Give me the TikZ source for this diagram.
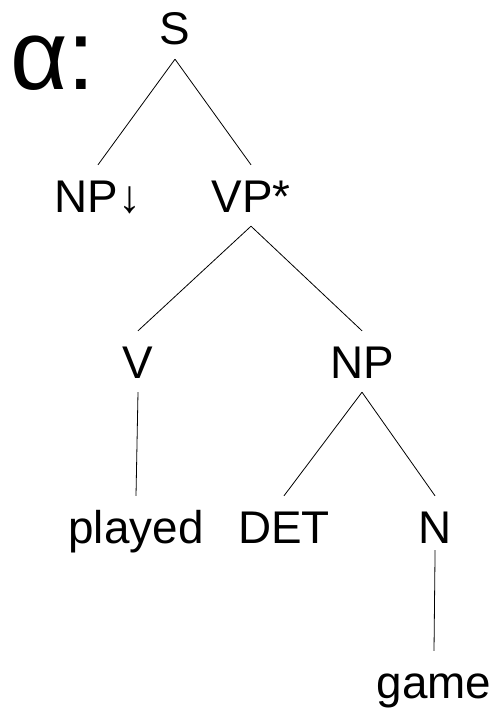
\documentclass[tikz,border=0pt]{standalone}
\usepackage{fontspec}
\setmainfont{Liberation Sans}

\begin{document}
\begin{tikzpicture}[
    x=1bp, y=-1bp,
    cat/.style={
        font=\fontsize{46}{55}\selectfont,
        text height=33bp, text depth=0pt,
        inner xsep=0pt, inner ysep=14bp,
        anchor=base
    },
    branch/.style={line width=0.8bp}
]
\useasboundingbox (0,0) rectangle (498,711);

\node[font=\fontsize{100}{100}\selectfont, anchor=base west, inner sep=0pt] (tree) at (10,90) {α:};

\node[cat] (s)      at (175,45)  {S};
\node[cat] (npsubj) at (98,212)  {NP↓};
\node[cat] (vp)     at (251,212) {VP*};
\node[cat] (v)      at (138,378) {V};
\node[cat] (npobj)  at (362,378) {NP};
\node[cat] (played) at (136,543) {played};
\node[cat] (det)    at (284,543) {DET};
\node[cat] (n)      at (435,543) {N};
\node[cat] (game)   at (434,698) {game};

\draw[branch] (s.south) -- (npsubj.north);
\draw[branch] (s.south) -- (vp.north);
\draw[branch] (vp.south) -- (v.north);
\draw[branch] (vp.south) -- (npobj.north);
\draw[branch] (v.south) -- (played.north);
\draw[branch] (npobj.south) -- (det.north);
\draw[branch] (npobj.south) -- (n.north);
\draw[branch, shorten <=-7bp] (n.south) -- (game.north);

\end{tikzpicture}
\end{document}
